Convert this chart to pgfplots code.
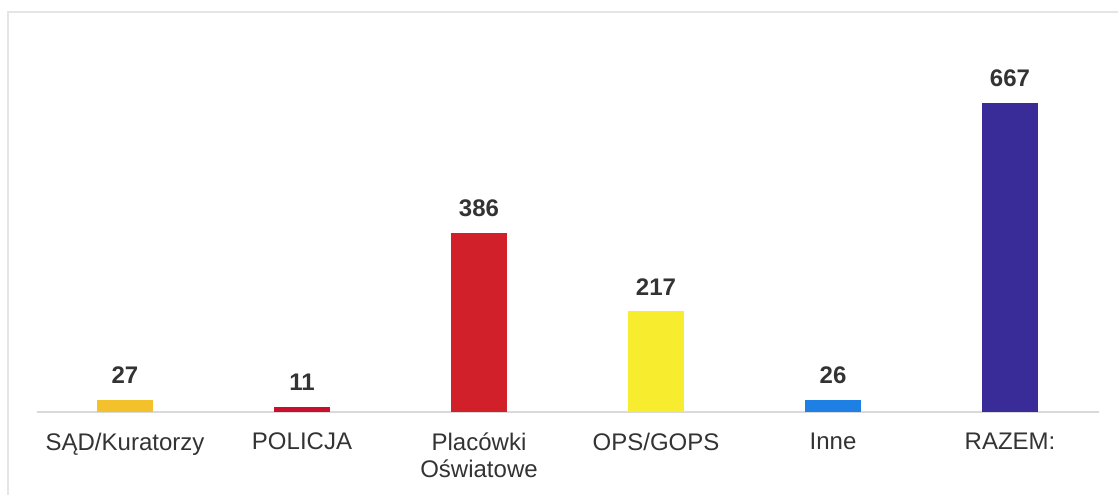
\documentclass[border=0pt]{standalone}
\usepackage{pgfplots}
\pgfplotsset{compat=1.18}
\usepackage{fontspec}
\setmainfont{Liberation Sans}
\definecolor{cSad}{HTML}{F3C12C}
\definecolor{cPol}{HTML}{C8102E}
\definecolor{cPla}{HTML}{D2202A}
\definecolor{cOps}{HTML}{F7EC2E}
\definecolor{cInn}{HTML}{1E80E4}
\definecolor{cRaz}{HTML}{392C98}
\definecolor{txt}{HTML}{333333}
\begin{document}
\begin{tikzpicture}
\useasboundingbox (0,0) rectangle (559pt,247.5pt);
\draw[black!10, line width=0.8pt] (4pt,0) -- (4pt,241.5pt) -- (559pt,241.5pt);
\begin{axis}[
  at={(18.25pt,41.5pt)}, anchor=south west,
  scale only axis, width=531pt, height=162.15pt,
  xmin=-0.5, xmax=5.5, ymin=0, ymax=700,
  axis x line*=bottom, axis y line=none,
  x axis line style={black!15, line width=0.6pt, -},
  xtick={0,1,2,3,4,5},
  xticklabels={SĄD/Kuratorzy, POLICJA, {Placówki\\Oświatowe}, OPS/GOPS, Inne, RAZEM:},
  xticklabel style={align=center, font=\fontsize{12}{13.5}\selectfont, text=txt, yshift=-7pt},
  major tick length=0pt,
  /pgf/number format/assume math mode=true,
  ybar, bar width=28pt,
  nodes near coords,
  every node near coord/.append style={anchor=south, yshift=8pt, inner sep=0pt, font=\fontsize{12}{13}\selectfont\bfseries, text=txt},
  clip=false,
]
\addplot[fill=cSad, draw=none, bar shift=0pt] coordinates {(0,27)};
\addplot[fill=cPol, draw=none, bar shift=0pt] coordinates {(1,11)};
\addplot[fill=cPla, draw=none, bar shift=0pt] coordinates {(2,386)};
\addplot[fill=cOps, draw=none, bar shift=0pt] coordinates {(3,217)};
\addplot[fill=cInn, draw=none, bar shift=0pt] coordinates {(4,26)};
\addplot[fill=cRaz, draw=none, bar shift=0pt] coordinates {(5,667)};
\end{axis}
\end{tikzpicture}
\end{document}
